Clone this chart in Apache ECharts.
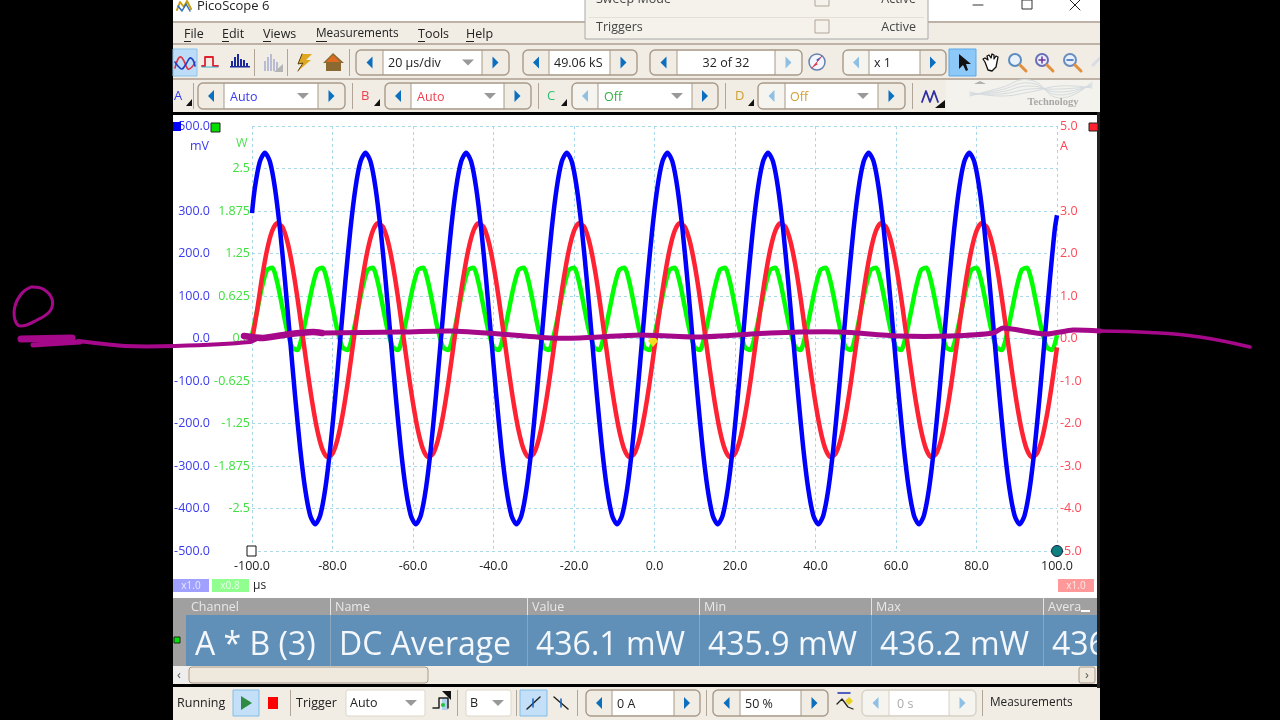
<!DOCTYPE html>
<html><head><meta charset="utf-8">
<script src="https://cdn.jsdelivr.net/npm/echarts@6/dist/echarts.min.js"></script>
<style>html,body{margin:0;padding:0;background:#000}#c{width:1280px;height:720px}</style>
</head><body><div id="c"></div>
<script>
const timesUs = [
-100,-98.75,-97.5,-96.25,-95,-93.75,-92.5,-91.25,-90,-88.75,-87.5,-86.25,-85,-83.75,-82.5,-81.25,-80,-78.75,-77.5,-76.25,
-75,-73.75,-72.5,-71.25,-70,-68.75,-67.5,-66.25,-65,-63.75,-62.5,-61.25,-60,-58.75,-57.5,-56.25,-55,-53.75,-52.5,-51.25,
-50,-48.75,-47.5,-46.25,-45,-43.75,-42.5,-41.25,-40,-38.75,-37.5,-36.25,-35,-33.75,-32.5,-31.25,-30,-28.75,-27.5,-26.25,
-25,-23.75,-22.5,-21.25,-20,-18.75,-17.5,-16.25,-15,-13.75,-12.5,-11.25,-10,-8.75,-7.5,-6.25,-5,-3.75,-2.5,-1.25,
0,1.25,2.5,3.75,5,6.25,7.5,8.75,10,11.25,12.5,13.75,15,16.25,17.5,18.75,20,21.25,22.5,23.75,
25,26.25,27.5,28.75,30,31.25,32.5,33.75,35,36.25,37.5,38.75,40,41.25,42.5,43.75,45,46.25,47.5,48.75,
50,51.25,52.5,53.75,55,56.25,57.5,58.75,60,61.25,62.5,63.75,65,66.25,67.5,68.75,70,71.25,72.5,73.75,
75,76.25,77.5,78.75,80,81.25,82.5,83.75,85,86.25,87.5,88.75,90,91.25,92.5,93.75,95,96.25,97.5,98.75,100];
const channelA_timesUs = [-100,
-99.3,-98.05,-96.8,-95.55,-94.3,-93.05,-91.8,-90.55,-89.3,-88.05,-86.8,-85.55,-84.3,-83.05,-81.8,-80.55,-79.3,-78.05,-76.8,-75.55,
-74.3,-73.05,-71.8,-70.55,-69.3,-68.05,-66.8,-65.55,-64.3,-63.05,-61.8,-60.55,-59.3,-58.05,-56.8,-55.55,-54.3,-53.05,-51.8,-50.55,
-49.3,-48.05,-46.8,-45.55,-44.3,-43.05,-41.8,-40.55,-39.3,-38.05,-36.8,-35.55,-34.3,-33.05,-31.8,-30.55,-29.3,-28.05,-26.8,-25.55,
-24.3,-23.05,-21.8,-20.55,-19.3,-18.05,-16.8,-15.55,-14.3,-13.05,-11.8,-10.55,-9.3,-8.05,-6.8,-5.55,-4.3,-3.05,-1.8,-0.55,
0.7,1.95,3.2,4.45,5.7,6.95,8.2,9.45,10.7,11.95,13.2,14.45,15.7,16.95,18.2,19.45,20.7,21.95,23.2,24.45,
25.7,26.95,28.2,29.45,30.7,31.95,33.2,34.45,35.7,36.95,38.2,39.45,40.7,41.95,43.2,44.45,45.7,46.95,48.2,49.45,
50.7,51.95,53.2,54.45,55.7,56.95,58.2,59.45,60.7,61.95,63.2,64.45,65.7,66.95,68.2,69.45,70.7,71.95,73.2,74.45,
75.7,76.95,78.2,79.45,80.7,81.95,83.2,84.45,85.7,86.95,88.2,89.45,90.7,91.95,93.2,94.45,95.7,96.95,98.2,99.45,100];
const channelA_mV = [295,
354,416,437,416,354,257,135,0,-135,-257,-354,-416,-437,-416,-354,-257,-135,0,135,257,
354,416,437,416,354,257,135,0,-135,-257,-354,-416,-437,-416,-354,-257,-135,0,135,257,
354,416,437,416,354,257,135,0,-135,-257,-354,-416,-437,-416,-354,-257,-135,0,135,257,
354,416,437,416,354,257,135,0,-135,-257,-354,-416,-437,-416,-354,-257,-135,0,135,257,
354,416,437,416,354,257,135,0,-135,-257,-354,-416,-437,-416,-354,-257,-135,0,135,257,
354,416,437,416,354,257,135,0,-135,-257,-354,-416,-437,-416,-354,-257,-135,0,135,257,
354,416,437,416,354,257,135,0,-135,-257,-354,-416,-437,-416,-354,-257,-135,0,135,257,
354,416,437,416,354,257,135,0,-135,-257,-354,-416,-437,-416,-354,-257,-135,0,135,257,290];
const channelB_A = [
-0.05,0.65,1.44,2.09,2.53,2.71,2.63,2.29,1.72,0.98,0.13,-0.73,-1.52,-2.17,-2.61,-2.79,-2.71,-2.37,-1.80,-1.06,
-0.21,0.65,1.44,2.09,2.53,2.71,2.63,2.29,1.72,0.98,0.13,-0.73,-1.52,-2.17,-2.61,-2.79,-2.71,-2.37,-1.80,-1.06,
-0.21,0.65,1.44,2.09,2.53,2.71,2.63,2.29,1.72,0.98,0.13,-0.73,-1.52,-2.17,-2.61,-2.79,-2.71,-2.37,-1.80,-1.06,
-0.21,0.65,1.44,2.09,2.53,2.71,2.63,2.29,1.72,0.98,0.13,-0.73,-1.52,-2.17,-2.61,-2.79,-2.71,-2.37,-1.80,-1.06,
-0.21,0.65,1.44,2.09,2.53,2.71,2.63,2.29,1.72,0.98,0.13,-0.73,-1.52,-2.17,-2.61,-2.79,-2.71,-2.37,-1.80,-1.06,
-0.21,0.65,1.44,2.09,2.53,2.71,2.63,2.29,1.72,0.98,0.13,-0.73,-1.52,-2.17,-2.61,-2.79,-2.71,-2.37,-1.80,-1.06,
-0.21,0.65,1.44,2.09,2.53,2.71,2.63,2.29,1.72,0.98,0.13,-0.73,-1.52,-2.17,-2.61,-2.79,-2.71,-2.37,-1.80,-1.06,
-0.21,0.65,1.44,2.09,2.53,2.71,2.63,2.29,1.72,0.98,0.13,-0.73,-1.52,-2.17,-2.61,-2.79,-2.71,-2.37,-1.80,-1.06,-0.21];
const mathAB_W = [
0.05,0.40,0.76,1.01,1.04,0.83,0.47,0.11,-0.13,-0.17,0.05,0.40,0.76,1.01,1.04,0.83,0.47,0.11,-0.13,-0.17,
0.05,0.40,0.76,1.01,1.04,0.83,0.47,0.11,-0.13,-0.17,0.05,0.40,0.76,1.01,1.04,0.83,0.47,0.11,-0.13,-0.17,
0.05,0.40,0.76,1.01,1.04,0.83,0.47,0.11,-0.13,-0.17,0.05,0.40,0.76,1.01,1.04,0.83,0.47,0.11,-0.13,-0.17,
0.05,0.40,0.76,1.01,1.04,0.83,0.47,0.11,-0.13,-0.17,0.05,0.40,0.76,1.01,1.04,0.83,0.47,0.11,-0.13,-0.17,
0.05,0.40,0.76,1.01,1.04,0.83,0.47,0.11,-0.13,-0.17,0.05,0.40,0.76,1.01,1.04,0.83,0.47,0.11,-0.13,-0.17,
0.05,0.40,0.76,1.01,1.04,0.83,0.47,0.11,-0.13,-0.17,0.05,0.40,0.76,1.01,1.04,0.83,0.47,0.11,-0.13,-0.17,
0.05,0.40,0.76,1.01,1.04,0.83,0.47,0.11,-0.13,-0.17,0.05,0.40,0.76,1.01,1.04,0.83,0.47,0.11,-0.13,-0.17,
0.05,0.40,0.76,1.01,1.04,0.83,0.47,0.11,-0.13,-0.17,0.05,0.40,0.76,1.01,1.04,0.83,0.47,0.11,-0.13,-0.17,0.05];
const xTicks = [-100,-80,-60,-40,-20,0,20,40,60,80,100];
const blueTicks = [500,300,200,100,0,-100,-200,-300,-400,-500];
const greenTicks = [2.5,1.875,1.25,0.625,0,-0.625,-1.25,-1.875,-2.5];
const redTicks = [5,3,2,1,0,-1,-2,-3,-4,-5];
const tableHead = ['Channel','Name','Value','Min','Max','Avera'];
const tableRow = ['A * B (3)','DC Average','436.1 mW','435.9 mW','436.2 mW','436'];
const menuItems = ['File','Edit','Views','Measurements','Tools','Help'];

const FF = '"Open Sans","Noto Sans",sans-serif';
const E = [];
const BEIGE='#f1ede4', EDGE='#a89a8a', ARROW='#0b6fbd', FAINT='#8fc0e4';
function rect(x,y,w,h,fill,stroke,r,z,lw){E.push({type:'rect',silent:true,z:z||0,shape:{x,y,width:w,height:h,r:r||0},style:{fill:fill||null,stroke:stroke||null,lineWidth:lw||1}});}
function txt(x,y,s,fill,size,align,z,extra){E.push({type:'text',silent:true,z:z||1,style:{x,y:y+1,text:s,fill:fill||'#222',font:(extra||'')+' '+(size||13)+'px '+FF,align:align||'left',verticalAlign:'middle'}});}
function poly(pts,stroke,w,z,smooth,fill){E.push({type:fill?'polygon':'polyline',silent:true,z:z||1,shape:{points:pts,smooth:smooth||0},style:{stroke:stroke||null,lineWidth:w||1,fill:fill||null,lineCap:'round',lineJoin:'round'}});}
function tri(pts,fill,z){poly(pts,null,0,z||1,0,fill);}
function circ(cx,cy,r,fill,stroke,lw,z){E.push({type:'circle',silent:true,z:z||1,shape:{cx,cy,r},style:{fill:fill||null,stroke:stroke||null,lineWidth:lw||1}});}
function arrowL(cx,cy,c){tri([[cx+3,cy-6],[cx+3,cy+6],[cx-3,cy]],c||ARROW);}
function arrowR(cx,cy,c){tri([[cx-3,cy-6],[cx-3,cy+6],[cx+3,cy]],c||ARROW);}
function down(cx,cy){tri([[cx-6,cy-3],[cx+6,cy-3],[cx,cy+3]],'#999');}
function spinner(x0,x1,y0,y1,lw,rw,label,lx,color,o){
  o=o||{}; const h=y1-y0,cy=(y0+y1)/2;
  rect(x0,y0,x1-x0,h,BEIGE,o.off?'#d8d2c8':EDGE,5,0,1.4);
  rect(x0+lw,y0+1,x1-x0-lw-rw,h-2,'#fff',null);
  if(o.dimL){rect(x0+1,y0+1,lw-1,h-2,'#f6f4ef',null,4);}
  if(o.dimR){rect(x1-rw,y0+1,rw-1,h-2,'#f6f4ef',null,4);}
  arrowL(x0+lw/2,cy,o.dimL?FAINT:ARROW); arrowR(x1-rw/2,cy,o.dimR?FAINT:ARROW);
  E.push({type:'line',silent:true,z:1,shape:{x1:x0+lw,y1:y0,x2:x0+lw,y2:y1},style:{stroke:o.off?'#d8d2c8':EDGE,lineWidth:1}});
  E.push({type:'line',silent:true,z:1,shape:{x1:x1-rw,y1:y0,x2:x1-rw,y2:y1},style:{stroke:o.off?'#d8d2c8':EDGE,lineWidth:1}});
  txt(lx,cy,label,color||'#222',12.5,o.align||'left');
  if(o.tri) down(o.tri,cy);
}
function vsep(x,y0,y1){rect(x,y0,1,y1-y0,'#b0a597');}

// window
rect(173,0,927,720,BEIGE);
rect(173,0,927,22,'#fff');
rect(173,21,927,2,'#bdb2a5');
rect(173,43,927,2,'#bdb2a5');
rect(173,78,927,2,'#bdb2a5');
// title
poly([[177,10],[180,2],[184,7],[187,1],[191,9]],'#c8a010',2);
poly([[178,6],[182,11],[186,4],[190,11]],'#2c6fc0',1.5);
txt(197,5,'PicoScope 6','#222',13);
poly([[973,5],[983,5]],'#333',1);
rect(1022,0,10,9,null,'#333');
poly([[1070,0],[1080,10]],'#222',1); poly([[1080,0],[1070,10]],'#222',1);
// menu
const menuX=[184,222,263,316,418,466], ulW=[7,7,8,11,7,8], menuSize=[12.5,12.5,12.5,11.8,12.5,12.5];
menuItems.forEach((m,i)=>{txt(menuX[i],33,m,'#222',menuSize[i]);rect(menuX[i],41,ulW[i],1,'#222');});
// toolbar 1
rect(173,49,24,27,'#bcdcf8','#8cc4ee');
poly([[175,68],[178,59],[181,57],[184,61],[188,69],[192,67],[195,62]],'#e03040',1.6,1,0.4);
poly([[175,62],[178,66],[182,69],[186,64],[190,58],[193,60],[195,66]],'#2040c0',1.6,1,0.4);
poly([[202,66],[205,66],[205,57],[213,57],[213,66],[218,66]],'#e02030',1.8);
poly([[202,67],[218,67]],'#30b0d0',1);
[231,234,237,240,243,246].forEach((x,i)=>rect(x,[61,57,54,59,60,63][i],2,[6,10,13,8,7,4][i],'#1a2a9a'));
rect(230,66,20,1.5,'#1a2a9a');
vsep(254,49,76);
[264,267,270,273,276].forEach((x,i)=>rect(x,[61,57,54,59,62][i],2,[10,14,17,12,9][i],'#b8bcd4'));
tri([[283,64],[283,72],[274,72]],'#b4b4b4');
vsep(287,49,76);
tri([[302,54],[298,64],[303,63],[298,71],[311,60],[306,60],[312,54]],'#e0a820');
poly([[302,54],[298,64],[303,63],[298,71]],'#5a4010',1);
tri([[333,53],[323,63],[326,63],[326,71],[341,71],[341,63],[344,63]],'#8a6a30');
tri([[333,55],[326,62],[340,62]],'#e06a20');
rect(327,63,13,8,'#fff4d8');
rect(331,64,4,7,'#b07020');
vsep(349,49,76);
spinner(356,509,50,75,27,27,'20 µs/div',388,'#222',{tri:468});
spinner(523,637,50,75,26,27,'49.06 kS',554,'#222');
spinner(650,802,50,75,27,27,'32 of 32',726,'#222',{align:'center',dimR:true});
circ(817,62,8,'#f4f6fc','#6680b0',1.5);
tri([[822,56],[818,61],[816,60]],'#2050d0'); tri([[812,68],[816,63],[818,64]],'#e03040');
poly([[822,56],[812,68]],'#d04050',1);
spinner(843,946,50,75,26,26,'x 1',874,'#222',{dimL:true});
rect(949,49,27,27,'#8cc8f8','#5aa8e8');
tri([[959,54],[959,69],[963,65],[966,71],[968,70],[966,64],[971,64]],'#111');
poly([[985,62],[983,59],[985,58],[988,60],[987,56],[989,55],[991,58],[992,54],[994,55],[994,59],[996,56],[998,57],[997,62],[996,67],[992,71],[988,70],[985,62]],'#111',1.3,1,0,'#fff');
[[1017,62,'#5a8cc0',''],[1044,62,'#6a70b8','+'],[1072,62,'#6a8cc0','-']].forEach(a=>{
  circ(a[0]-2,a[1]-2,6,'#e8f0fa',a[2],2);
  poly([[a[0]+3,a[1]+3],[a[0]+9,a[1]+9]],'#e09040',3);
  if(a[3]) poly([[a[0]-5,a[1]-2],[a[0]+1,a[1]-2]],a[3]=='+'?'#7030a0':'#3060c0',1.5);
  if(a[3]=='+') poly([[a[0]-2,a[1]-5],[a[0]-2,a[1]+1]],'#7030a0',1.5);
});
poly([[1093,65],[1100,58]],'#d8dce4',3);
// toolbar 2
function chip(x,label,color,tx){txt(x,95,label,color,13);tri([[tx+6,99],[tx+6,106],[tx,106]],'#111');}
chip(174,'A','#3a3af0',186); vsep(193,83,109);
spinner(198,345,83,109,26,27,'Auto',230,'#3a3af0',{tri:303}); vsep(352,83,109);
chip(361,'B','#f04050',374);
spinner(385,531,83,109,26,27,'Auto',417,'#f04050',{tri:490}); vsep(538,83,109);
chip(547,'C','#30c070',561);
spinner(572,718,83,109,26,26,'Off',604,'#30b040',{tri:677,dimL:true}); vsep(725,83,109);
chip(735,'D','#d0a030',748);
spinner(758,905,83,109,27,27,'Off',790,'#d0a030',{tri:863,dimL:true}); vsep(912,83,109);
poly([[922,102],[926,91],[930,102],[934,91],[938,102]],'#3030a0',1.8);
tri([[945,100],[945,108],[935,108]],'#111');
rect(946,80,154,32,'#f4f2ec');
tri([[974,84],[986,84],[980,81]],'#b0b0b0');
[0,3,6,9,12].forEach(d=>poly([[970,96-d/3],[1000,88-d/3+d],[1030,80+d],[1060,98-d],[1092,82+d/2]],'#d4dbe0',1,1,0.5));
E.push({type:'text',silent:true,z:1,style:{x:1053,y:102,text:'Technology',fill:'#a8a8a8',font:'bold 10.5px "Liberation Serif",serif',align:'center',verticalAlign:'middle'}});
// trigger popup
rect(585,-2,343,41,'#f5f2ec','#a8a8a8');
rect(589,17,335,1,'#e4e0d8');
txt(596,-2,'Sweep Mode','#444',12.5);
txt(596,26,'Triggers','#444',12.5);
rect(815,-6,14,12,'#f5f2ec','#b0a597');
rect(815,20,14,13,'#f5f2ec','#b0a597');
txt(916,-2,'Active','#444',12.5,'right');
txt(916,26,'Active','#444',12.5,'right');
// plot background
rect(173,112,927,3,'#000');
rect(173,115,924,483,'#fff');
rect(1097,112,3,576,'#222');
// plot markers (over series)
rect(173,122,8,9,'#0000ff',null,0,10);
rect(211,123,9,9,'#00e000','#222',0,10);
rect(1089,123,9,8,'#ff2030','#222',0,10);
rect(247,546,9,10,'#fff','#111',0,10);
circ(1057,551,5.5,'#0f8080','#124',1,10);
tri([[653,335],[658,341],[653,347],[648,341]],'#f0e020',10);
txt(190,145,'mV','#3a3af0',12.5,'left',5);
txt(236,142,'W','#50e050',12.5,'left',5);
txt(1060,145,'A','#ff4050',12.5,'left',5);
// gain chips
rect(173,579,36,13,'#a0a0ff'); txt(191,585,'x1.0','#e8e8ff',10,'center');
rect(212,579,37,13,'#90ff90'); txt(230,585,'x0.8','#e8ffe8',10,'center');
txt(253,585,'µs','#222',12);
rect(1058,579,36,13,'#ff9898'); txt(1076,585,'x1.0','#ffe8e8',10,'center');
// table
rect(173,598,924,17,'#a0a0a0');
rect(173,615,13,51,'#a0a0a0');
rect(186,615,911,51,'#6090b8');
rect(174,637,6,6,'#00e000','#222');
const colX=[186,330,527,699,871,1043];
colX.slice(1).forEach(x=>{rect(x,598,1,17,'#e4e4e4');rect(x,615,1,51,'#8aa4bc');});
tableHead.forEach((s,i)=>txt(colX[i]+5,606,s,'#e8e8e8',12.5));
tableRow.forEach((s,i)=>txt(colX[i]+9,645,s,'#f4f8fc',32));
rect(1077,604,15,10,'#a0a0a0'); rect(1081,610,9,2,'#fff');
// scrollbar
rect(173,666,924,18,BEIGE);
rect(173,667,14,16,'#eee');
rect(189,667,239,16,'#efe8dc',EDGE,3);
rect(1079,667,16,16,'#efe8dc',EDGE,2);
txt(179,674,'‹','#555',13,'center'); txt(1087,674,'›','#555',13,'center');
rect(173,684,924,3,'#000');
// status bar
rect(173,687,927,33,BEIGE);
txt(177,702,'Running','#222',12.5);
rect(233,690,26,26,'#c4e0f8','#80bce8');
tri([[241,696],[241,710],[252,703]],'#2e8b40');
rect(268,697,10,12,'#ff0000');
vsep(290,690,716);
txt(296,702,'Trigger','#222',12.5);
rect(346,690,79,26,'#fff','#ddd6ca',2); txt(350,702,'Auto','#222',12.5); down(411,703);
rect(442,698,6,12,'#b0d0ec');
poly([[433,708],[439,708],[439,698],[448,698],[448,708]],'#222',1.5);
tri([[442,691],[451,691],[451,700]],'#111');
circ(443,705,2,'#20c040');
vsep(457,690,716);
rect(466,690,45,26,'#fff','#ddd6ca',2); txt(470,702,'B','#222',12.5); down(498,703);
vsep(516,690,716);
rect(520,690,27,26,'#c4e0f8','#80bce8'); poly([[527,709],[540,697]],'#222',1.5); poly([[533,699],[533,707]],'#1060c0',1.5);
poly([[554,697],[568,709]],'#222',1.5); poly([[561,699],[561,707]],'#1060c0',1.5);
vsep(577,690,716);
spinner(586,700,690,716,26,26,'0 A',617,'#222');
vsep(706,690,716);
spinner(713,828,690,716,27,27,'50 %',745,'#222');
poly([[837,704],[842,699],[848,707],[853,709]],'#222',1.3); poly([[838,693],[850,693]],'#2030b0',1.5); tri([[849,697],[853,701],[849,705],[845,701]],'#e8d020');
spinner(862,976,690,716,27,27,'0 s',897,'#aaa',{off:true,dimL:true,dimR:true});
vsep(982,690,716);
txt(990,702,'Measurements','#222',11.8);
// outside black covers (clip table text)
rect(1097,598,3,90,'#222',null,0,6);
rect(1100,0,180,720,'#000',null,0,6);
// hand-drawn magenta annotation
const INK='#a6088a';
poly([[31,287],[43,289],[52,299],[50,311],[37,320],[21,326],[15,320],[15,306],[22,293],[31,287]],INK,3,20,0.4);
poly([[21,339],[72,338]],INK,7,20); poly([[33,345],[80,342]],INK,5,20);
poly([[78,341],[125,346],[175,346],[250,342],[259,338]],INK,4,20,0.2);
poly([[244,336],[263,338],[290,334],[313,332],[322,333]],INK,6.5,20,0.2);
poly([[322,333],[400,332],[450,331],[500,334],[550,338],[580,338],[640,335],[700,337],[770,333],[840,332],[900,336],[950,336],[993,333],[1003,328],[1030,332],[1047,334],[1073,330],[1100,331]],INK,5,20,0.2);
poly([[1100,331],[1150,332.5],[1200,337],[1250,347]],INK,3.5,20,0.4);

const fmtTick=(list,f)=>v=>{const hit=list.find(t=>Math.abs(t-v)<1e-6);return hit===undefined?'':f(hit);};
const fmt1=v=>v.toFixed(1);
const fmtW=v=>(v===0?'0.0':String(v));
const split={show:true,lineStyle:{color:'#a9d9e8',type:[3,3],width:1}};
const hideLine={show:false};
const toPairs=(ts,vals)=>vals.map((v,i)=>[ts[i],v]);
const line=(name,ts,vals,yi,color)=>({name,type:'line',yAxisIndex:yi,data:toPairs(ts,vals),showSymbol:false,smooth:0.25,
  lineStyle:{color,width:4.5,join:'round'},itemStyle:{color},animation:false,clip:false,silent:true});
const chart=echarts.init(document.getElementById('c'),null,{renderer:'canvas'});
chart.setOption({
  animation:false,backgroundColor:'#000',
  textStyle:{fontFamily:FF},
  grid:{left:252,right:223,top:126,bottom:169,containLabel:false},
  xAxis:{type:'value',min:-100,max:100,interval:20,axisLine:hideLine,axisTick:hideLine,splitLine:split,
    axisLabel:{color:'#222',fontSize:12.5,margin:9,formatter:fmtTick(xTicks,fmt1)}},
  yAxis:[
    {type:'value',min:-500,max:500,interval:100,position:'left',axisLine:hideLine,axisTick:hideLine,splitLine:split,
     axisLabel:{color:'#3a3af0',fontSize:12.5,margin:42,padding:[3,0,0,0],formatter:fmtTick(blueTicks,fmt1)}},
    {type:'value',min:-3.125,max:3.125,interval:0.625,position:'left',offset:0,axisLine:hideLine,axisTick:hideLine,splitLine:{show:false},
     axisLabel:{color:'#40e040',fontSize:12.5,margin:2,padding:[3,0,0,0],formatter:fmtTick(greenTicks,fmtW)}},
    {type:'value',min:-5,max:5,interval:1,position:'right',axisLine:hideLine,axisTick:hideLine,splitLine:{show:false},
     axisLabel:{color:'#ff4858',fontSize:12.5,margin:3,padding:[3,0,0,0],formatter:fmtTick(redTicks,fmt1)}}
  ],
  series:[
    line('A * B (3)',timesUs,mathAB_W,1,'#00ff00'),
    line('Channel B',timesUs,channelB_A,2,'#ff2233'),
    line('Channel A',channelA_timesUs,channelA_mV,0,'#0000ff')
  ],
  graphic:{elements:E}
});
</script></body></html>
